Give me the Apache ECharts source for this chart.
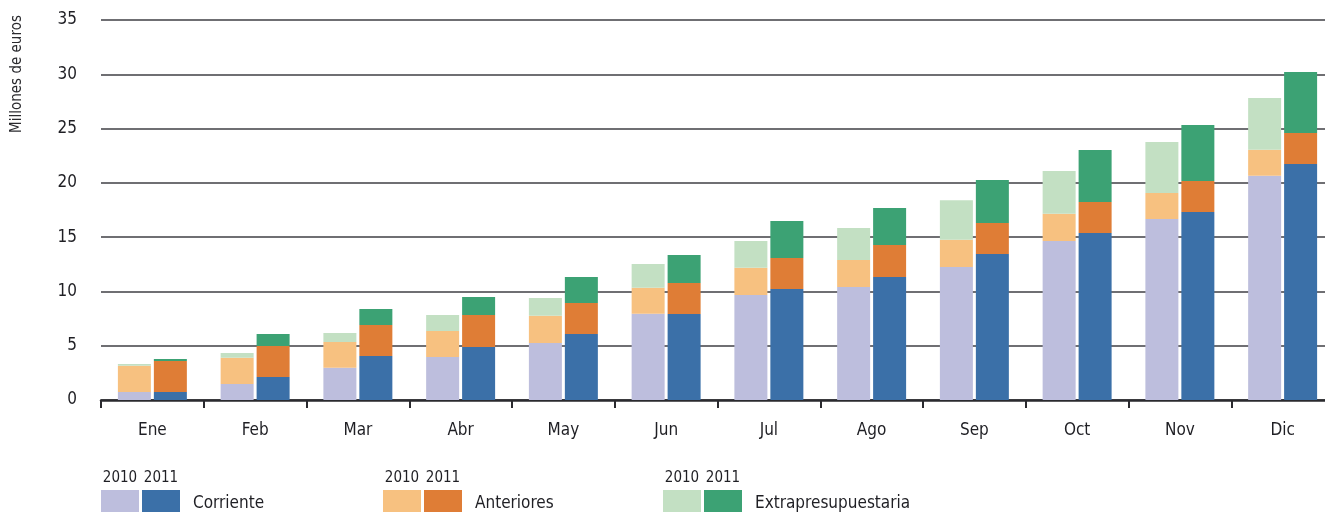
<!DOCTYPE html>
<html>
<head>
<meta charset="utf-8">
<script src="https://cdn.jsdelivr.net/npm/echarts@6/dist/echarts.min.js"></script>
<style>
  html, body { margin: 0; padding: 0; background: #ffffff; overflow: hidden; }
  /* the plot runs past the right edge of the page, so the canvas is a bit wider */
  #chart { width: 1340px; height: 512px; }
</style>
</head>
<body>
<div id="chart"></div>
<script>
// Monthly cumulative payments (millions of euros), 2010 vs 2011
const months = ['Ene', 'Feb', 'Mar', 'Abr', 'May', 'Jun', 'Jul', 'Ago', 'Sep', 'Oct', 'Nov', 'Dic'];

const corriente2010 = [0.74, 1.47, 2.98, 3.96, 5.25, 7.95, 9.67, 10.40, 12.25, 14.64, 16.67, 20.65];
const anteriores2010 = [2.42, 2.43, 2.36, 2.39, 2.52, 2.39, 2.51, 2.49, 2.51, 2.51, 2.39, 2.40];
const extra2010 = [0.15, 0.43, 0.83, 1.48, 1.62, 2.18, 2.46, 2.95, 3.64, 3.94, 4.70, 4.76];

const corriente2011 = [0.74, 2.12, 4.05, 4.88, 6.08, 7.92, 10.22, 11.33, 13.45, 15.38, 17.31, 21.73];
const anteriores2011 = [2.85, 2.85, 2.86, 2.95, 2.85, 2.85, 2.86, 2.94, 2.85, 2.85, 2.86, 2.86];
const extra2011 = [0.19, 1.11, 1.47, 1.65, 2.40, 2.58, 3.40, 3.41, 3.96, 4.79, 5.15, 5.61];

const yTicks = [0, 5, 10, 15, 20, 25, 30, 35];
const years = ['2010', '2011'];
const groups = ['Corriente', 'Anteriores', 'Extrapresupuestaria'];

const colors = {
  corriente: ['#bdbedd', '#3b70a8'],
  anteriores: ['#f7c180', '#df7d36'],
  extra: ['#c3e0c3', '#3ca274']
};

const FONT = '"DejaVu Sans Condensed", "Liberation Sans Narrow", "DejaVu Sans", sans-serif';
const TEXT = '#1f1f24';

function barSeries(name, stack, data, color) {
  return {
    name: name,
    type: 'bar',
    stack: stack,
    data: data,
    barWidth: 33,
    barGap: '9%',
    itemStyle: { color: color },
    emphasis: { disabled: true }
  };
}

// Custom two-swatch legend under the plot
const legendGraphics = [];
const legendX = [101, 383, 663];
const legendColors = [colors.corriente, colors.anteriores, colors.extra];
groups.forEach(function (g, i) {
  const x0 = legendX[i];
  years.forEach(function (yr, j) {
    const sx = x0 + j * 41;
    legendGraphics.push({
      type: 'rect',
      shape: { x: sx, y: 490, width: 38, height: 22 },
      style: { fill: legendColors[i][j] }
    });
    legendGraphics.push({
      type: 'text',
      x: sx + 19,
      y: 478,
      style: {
        text: yr, fill: TEXT, font: '15px ' + FONT,
        textAlign: 'center', textVerticalAlign: 'middle'
      }
    });
  });
  legendGraphics.push({
    type: 'text',
    x: x0 + 92,
    y: 504,
    style: {
      text: g, fill: TEXT, font: '17px ' + FONT,
      textAlign: 'left', textVerticalAlign: 'middle'
    }
  });
});

legendGraphics.push({
  type: 'text',
  x: 17,
  y: 74,
  rotation: Math.PI / 2,
  style: {
    text: 'Millones de euros', fill: '#2a2a2e', font: '15px ' + FONT,
    textAlign: 'center', textVerticalAlign: 'middle'
  }
});

const chart = echarts.init(document.getElementById('chart'), null, { renderer: 'canvas' });
chart.setOption({
  animation: false,
  backgroundColor: '#ffffff',
  grid: { left: 101, top: 20, bottom: 112, right: 6, containLabel: false },
  xAxis: {
    type: 'category',
    data: months,
    axisLine: { lineStyle: { color: '#2a2a2e', width: 2.5 } },
    axisTick: { show: true, alignWithLabel: false, length: 8, lineStyle: { color: '#2a2a2e', width: 2 } },
    axisLabel: { color: TEXT, fontFamily: FONT, fontSize: 17, margin: 22 },
    splitLine: { show: false }
  },
  yAxis: {
    type: 'value',
    min: yTicks[0],
    max: yTicks[yTicks.length - 1],
    interval: 5,
    axisLine: { show: false },
    axisTick: { show: false },
    axisLabel: { color: TEXT, fontFamily: FONT, fontSize: 17, margin: 24 },
    splitLine: { lineStyle: { color: '#3f3f44', width: 1.5 } }
  },
  series: [
    barSeries('Corriente 2010', 'y2010', corriente2010, colors.corriente[0]),
    barSeries('Anteriores 2010', 'y2010', anteriores2010, colors.anteriores[0]),
    barSeries('Extrapresupuestaria 2010', 'y2010', extra2010, colors.extra[0]),
    barSeries('Corriente 2011', 'y2011', corriente2011, colors.corriente[1]),
    barSeries('Anteriores 2011', 'y2011', anteriores2011, colors.anteriores[1]),
    barSeries('Extrapresupuestaria 2011', 'y2011', extra2011, colors.extra[1])
  ],
  graphic: legendGraphics
});
</script>
</body>
</html>
